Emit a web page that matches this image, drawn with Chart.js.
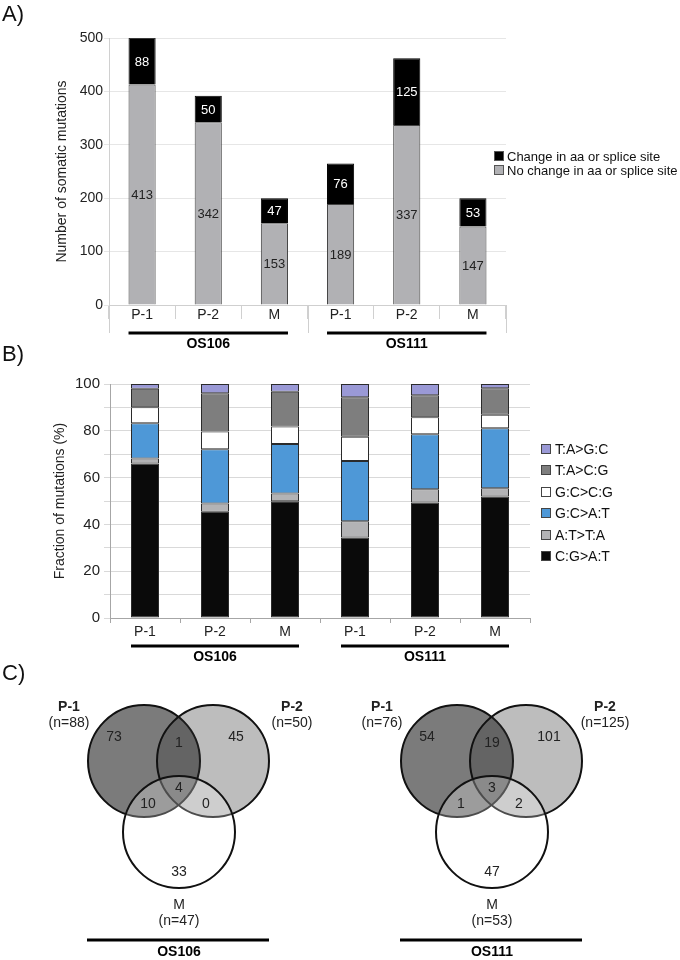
<!DOCTYPE html>
<html lang="en">
<head>
<meta charset="UTF-8">
<title>Somatic mutations OS106 / OS111</title>
<script src="https://cdn.jsdelivr.net/npm/chart.js"></script>
<style>
  body { margin: 0; background: #fff; }
  #page { position: relative; width: 680px; height: 960px; background: #fff; }
  #page canvas { position: absolute; left: 0; }
  .panel { position: absolute; left: 2px; font: 22px/22px "Liberation Sans", Arial, sans-serif; color: #111; }
</style>
</head>
<body>
<div id="page">
  <canvas id="chartA" width="680" height="356" style="top:0"></canvas>
  <canvas id="chartB" width="680" height="313" style="top:352px"></canvas>
  <canvas id="chartC" width="680" height="295" style="top:665px"></canvas>
  <div class="panel" style="top:3px">A)</div>
  <div class="panel" style="top:343px">B)</div>
  <div class="panel" style="top:662px">C)</div>
</div>

<script>
const FONT = '"Liberation Sans", Arial, sans-serif';
Chart.defaults.font.family = FONT;
Chart.defaults.color = '#222';

// shared categories
const samples = ['P-1', 'P-2', 'M', 'P-1', 'P-2', 'M'];
const patients = ['OS106', 'OS111'];

// A) number of somatic mutations
const changeAa = [88, 50, 47, 76, 125, 53];
const noChangeAa = [413, 342, 153, 189, 337, 147];

// B) fraction of mutations (%), bottom to top
const cgAt = [66.0, 45.4, 49.9, 34.4, 49.4, 51.9];
const atTa = [2.2, 3.5, 3.3, 6.9, 5.6, 3.6];
const gcAt = [15.0, 23.2, 21.2, 25.8, 23.5, 25.6];
const gcCg = [6.9, 7.6, 7.4, 10.4, 7.3, 5.8];
const taCg = [7.9, 16.3, 14.9, 16.8, 9.4, 11.3];
const taGc = [2.0, 4.0, 3.3, 5.7, 4.8, 1.8];

// C) venn diagrams of aa / splice changing mutations
const vennSets = ['P-1', 'P-2', 'M'];
const totalsOS106 = [88, 50, 47];
const totalsOS111 = [76, 125, 53];
// only P-1, only P-2, only M, P-1&P-2, P-1&M, P-2&M, all three
const regionsOS106 = [73, 45, 33, 1, 10, 0, 4];
const regionsOS111 = [54, 101, 47, 19, 1, 2, 3];

// value in the middle of every stacked segment
const segmentValues = {
  id: 'segmentValues',
  afterDatasetsDraw(chart) {
    const ctx = chart.ctx;
    ctx.save();
    ctx.font = '13px ' + FONT;
    ctx.textAlign = 'center';
    ctx.textBaseline = 'middle';
    chart.data.datasets.forEach((ds, i) => {
      chart.getDatasetMeta(i).data.forEach((bar, j) => {
        ctx.fillStyle = ds.valueColor;
        ctx.fillText(ds.data[j], bar.x, (bar.y + bar.base) / 2 + 1);
      });
    });
    ctx.restore();
  }
};

// patient bars + names under the sample axis
const patientAxis = {
  id: 'patientAxis',
  afterDraw(chart, args, opts) {
    const ctx = chart.ctx, area = chart.chartArea;
    const bars = chart.getDatasetMeta(0).data;
    ctx.save();
    if (opts.sepLength) {
      ctx.strokeStyle = opts.sepColor;
      ctx.lineWidth = 1;
      const mid = (bars[2].x + bars[3].x) / 2;
      [area.left, mid, area.right].forEach(px => {
        const x = Math.round(px) + 0.5;
        ctx.beginPath();
        ctx.moveTo(x, area.bottom);
        ctx.lineTo(x, area.bottom + opts.sepLength);
        ctx.stroke();
      });
    }
    ctx.fillStyle = '#000';
    ctx.font = 'bold 14px ' + FONT;
    ctx.textAlign = 'center';
    ctx.textBaseline = 'middle';
    patients.forEach((p, i) => {
      const a = bars[i * 3], b = bars[i * 3 + 2];
      const left = a.x - a.width / 2, right = b.x + b.width / 2;
      ctx.fillRect(left, area.bottom + opts.lineOffset - 1.5, right - left, 3);
      ctx.fillText(p, (left + right) / 2, area.bottom + opts.textOffset);
    });
    ctx.restore();
  }
};

// small square legend, top item = last dataset
const boxLegend = {
  id: 'boxLegend',
  afterDraw(chart, args, opts) {
    const ctx = chart.ctx;
    const items = chart.data.datasets.slice().reverse();
    ctx.save();
    ctx.font = opts.size + 'px ' + FONT;
    ctx.textBaseline = 'middle';
    items.forEach((ds, i) => {
      const y = Math.round(opts.y + i * opts.step);
      ctx.fillStyle = ds.backgroundColor;
      ctx.fillRect(opts.x, y - 5, 10, 10);
      ctx.strokeStyle = opts.boxBorder;
      ctx.lineWidth = 1;
      ctx.strokeRect(opts.x + 0.5, y - 4.5, 9, 9);
      ctx.fillStyle = '#111';
      ctx.fillText(ds.label, opts.x + opts.gap, y + 1);
    });
    ctx.restore();
  }
};

// ---------- A ----------
new Chart(document.getElementById('chartA'), {
  type: 'bar',
  data: {
    labels: samples,
    datasets: [
      { label: 'No change in aa or splice site', data: noChangeAa, backgroundColor: '#b1b1b4', borderColor: '#444', valueColor: '#222' },
      { label: 'Change in aa or splice site', data: changeAa, backgroundColor: '#000000', borderColor: '#000', valueColor: '#fff' }
    ]
  },
  options: {
    responsive: false,
    animation: false,
    devicePixelRatio: 1,
    events: [],
    layout: { padding: { top: 38, right: 174, left: 0, bottom: 0 } },
    datasets: { bar: { categoryPercentage: 1, barPercentage: 0.41, borderWidth: 1 } },
    plugins: {
      legend: { display: false },
      tooltip: { enabled: false },
      patientAxis: { sepLength: 28, sepColor: '#cfcfcf', lineOffset: 28, textOffset: 39 },
      boxLegend: { x: 494, y: 156, step: 14, gap: 13, size: 13, boxBorder: '#555' }
    },
    scales: {
      x: {
        stacked: true,
        grid: { offset: true, drawOnChartArea: false, tickLength: 14, color: '#d0d0d0' },
        border: { color: '#cfcfcf' },
        ticks: { padding: -12, color: '#222', font: { size: 14 } },
        afterFit: s => { s.height = 51; }
      },
      y: {
        stacked: true,
        min: 0,
        max: 500,
        grid: { color: '#e6e6e6', tickLength: 5 },
        border: { color: '#d0d0d0' },
        ticks: { stepSize: 100, padding: 1, color: '#222', font: { size: 14 } },
        title: { display: true, text: 'Number of somatic mutations', color: '#222', font: { size: 14 }, padding: { top: 54, bottom: 0 } },
        afterFit: s => { s.width = 109; }
      }
    }
  },
  plugins: [segmentValues, patientAxis, boxLegend]
});

// ---------- B ----------
new Chart(document.getElementById('chartB'), {
  type: 'bar',
  data: {
    labels: samples,
    datasets: [
      { label: 'C:G>A:T', data: cgAt, backgroundColor: '#0a0a0a' },
      { label: 'A:T>T:A', data: atTa, backgroundColor: '#b3b3b5' },
      { label: 'G:C>A:T', data: gcAt, backgroundColor: '#4e98d7' },
      { label: 'G:C>C:G', data: gcCg, backgroundColor: '#ffffff' },
      { label: 'T:A>C:G', data: taCg, backgroundColor: '#7e7e7e' },
      { label: 'T:A>G:C', data: taGc, backgroundColor: '#9a99d6' }
    ]
  },
  options: {
    responsive: false,
    animation: false,
    devicePixelRatio: 1,
    events: [],
    layout: { padding: { top: 32, right: 150, left: 0, bottom: 0 } },
    datasets: { bar: { categoryPercentage: 1, barPercentage: 0.4, borderWidth: 1, borderColor: '#2b2b2b', borderSkipped: false } },
    plugins: {
      legend: { display: false },
      tooltip: { enabled: false },
      patientAxis: { sepLength: 0, lineOffset: 28, textOffset: 39 },
      boxLegend: { x: 541, y: 97, step: 21.4, gap: 14, size: 14, boxBorder: '#444' }
    },
    scales: {
      x: {
        stacked: true,
        grid: { offset: true, drawOnChartArea: false, tickLength: 5, color: '#a6a6a6' },
        border: { color: '#a6a6a6' },
        ticks: { padding: 1, color: '#222', font: { size: 14 } },
        afterFit: s => { s.height = 47; }
      },
      y: {
        stacked: true,
        min: 0,
        max: 100,
        grid: { color: '#d9d9d9', tickLength: 6 },
        border: { color: '#a6a6a6' },
        ticks: { stepSize: 10, padding: 4, color: '#222', font: { size: 15 },
                 callback: v => (v % 20 === 0 ? v : '') },
        title: { display: true, text: 'Fraction of mutations (%)', color: '#222', font: { size: 14 }, padding: { top: 52, bottom: 0 } },
        afterFit: s => { s.width = 110; }
      }
    }
  },
  plugins: [patientAxis, boxLegend]
});

// ---------- C ----------
// diagram layout in page pixels (not data)
const vennCenters = [179, 492];
const circleSpots = [[-35, 761], [34, 761], [0, 832]];
const regionSpots = [[-65, 737], [57, 737], [0, 872], [0, 743], [-31, 804], [27, 804], [0, 788]];
const vennFills = ['rgba(49,49,49,0.64)', 'rgba(49,49,49,0.32)', 'rgba(255,255,255,0.25)'];

const vennText = {
  id: 'vennText',
  afterDatasetsDraw(chart) {
    const ctx = chart.ctx, sx = chart.scales.x, sy = chart.scales.y;
    const px = v => sx.getPixelForValue(v), py = v => sy.getPixelForValue(v);
    ctx.save();
    ctx.textAlign = 'center';
    ctx.textBaseline = 'middle';
    chart.data.datasets.forEach(ds => {
      const cx = ds.centerX;
      ctx.fillStyle = '#222';
      ctx.font = '14px ' + FONT;
      ds.regions.forEach((n, i) => ctx.fillText(n, px(cx + regionSpots[i][0]), py(regionSpots[i][1])));
      // set names with their totals
      ctx.font = 'bold 14px ' + FONT;
      ctx.fillText(vennSets[0], px(cx - 110), py(707));
      ctx.fillText(vennSets[1], px(cx + 113), py(707));
      ctx.font = '14px ' + FONT;
      ctx.fillText(vennSets[2], px(cx), py(905));
      ctx.fillText('(n=' + ds.totals[0] + ')', px(cx - 110), py(723));
      ctx.fillText('(n=' + ds.totals[1] + ')', px(cx + 113), py(723));
      ctx.fillText('(n=' + ds.totals[2] + ')', px(cx), py(921));
      // patient bar
      ctx.fillStyle = '#000';
      ctx.fillRect(px(cx - 92), py(940) - 1.5, px(cx + 90) - px(cx - 92), 3);
      ctx.font = 'bold 14px ' + FONT;
      ctx.fillText(ds.label, px(cx), py(952));
    });
    ctx.restore();
  }
};

const vennInfo = [
  { label: patients[0], totals: totalsOS106, regions: regionsOS106 },
  { label: patients[1], totals: totalsOS111, regions: regionsOS111 }
];

new Chart(document.getElementById('chartC'), {
  type: 'bubble',
  data: {
    datasets: vennInfo.map((v, k) => ({
      label: v.label,
      totals: v.totals,
      regions: v.regions,
      centerX: vennCenters[k],
      data: circleSpots.map(([dx, y]) => ({ x: vennCenters[k] + dx, y: y, r: 56 })),
      backgroundColor: vennFills,
      borderColor: '#111',
      borderWidth: 2
    }))
  },
  options: {
    responsive: false,
    animation: false,
    devicePixelRatio: 1,
    events: [],
    layout: { autoPadding: false, padding: 0 },
    plugins: { legend: { display: false }, tooltip: { enabled: false } },
    scales: {
      x: { type: 'linear', min: 0, max: 680, display: false },
      y: { type: 'linear', min: 665, max: 960, reverse: true, display: false }
    }
  },
  plugins: [vennText]
});
</script>
</body>
</html>
